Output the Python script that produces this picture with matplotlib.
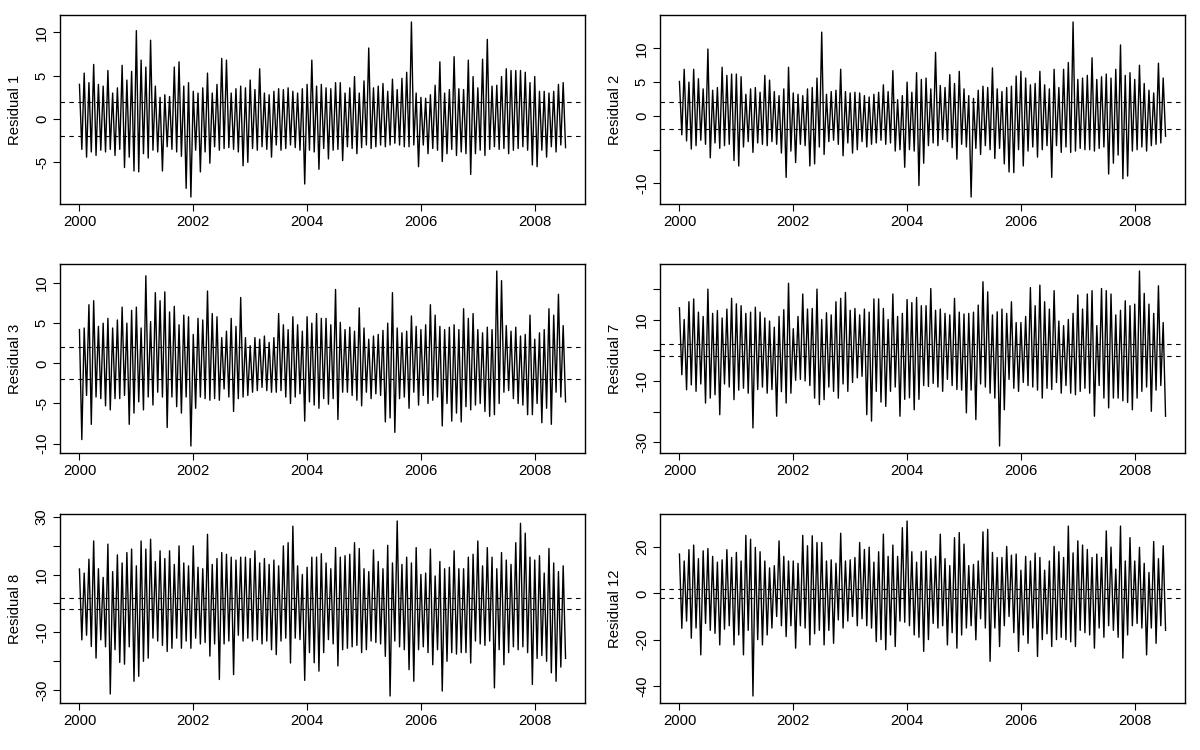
import numpy as np
import matplotlib

matplotlib.use("Agg")
import matplotlib.pyplot as plt

plt.rcParams["font.family"] = ["Liberation Sans", "DejaVu Sans"]

# Monthly extremes, Jan 2000 .. Jul 2008 (103 months).
# Each month: highest and lowest residual seen in that month.
res1_hi = [4.0, 5.3, 4.2, 6.3, 4.0, 3.8, 5.6, 3.0, 3.6, 6.2,
           4.5, 5.5, 10.2, 6.8, 6.0, 9.1, 3.8, 2.5, 2.8, 2.6,
           6.0, 6.6, 3.8, 4.2, 3.2, 3.0, 3.6, 5.3, 3.0, 4.0,
           7.0, 6.8, 3.0, 3.5, 3.8, 3.6, 4.5, 3.4, 5.8, 3.0,
           2.8, 3.2, 3.5, 3.4, 3.6, 3.2, 3.0, 3.5, 4.0, 6.8,
           3.8, 4.0, 3.6, 3.5, 4.2, 4.2, 3.0, 3.6, 4.9, 3.0,
           4.4, 8.2, 3.6, 3.8, 4.1, 3.2, 4.6, 3.4, 4.7, 5.4,
           11.2, 3.0, 2.5, 2.4, 2.8, 3.9, 6.6, 3.0, 3.4, 7.2,
           3.5, 3.4, 6.8, 4.9, 3.6, 6.9, 9.2, 3.8, 3.9, 4.9,
           5.8, 5.6, 5.6, 5.6, 5.4, 4.2, 4.9, 3.2, 3.2, 3.0,
           3.2, 4.0, 4.2]
res1_lo = [-3.5, -4.4, -3.8, -4.2, -3.6, -3.8, -3.5, -4.2, -3.5, -5.6,
           -4.4, -6.0, -6.1, -4.0, -4.5, -3.6, -3.8, -6.0, -3.2, -3.5,
           -3.8, -4.3, -8.0, -9.0, -3.6, -6.1, -3.8, -5.1, -3.2, -3.6,
           -3.4, -3.3, -3.5, -3.8, -5.4, -5.0, -3.4, -3.6, -3.2, -3.5,
           -4.4, -3.0, -3.6, -3.4, -3.0, -3.3, -3.6, -7.5, -3.6, -3.8,
           -5.8, -3.4, -4.6, -3.6, -3.5, -4.8, -3.2, -3.4, -4.0, -3.3,
           -3.0, -3.4, -3.2, -3.0, -3.2, -3.0, -2.8, -3.0, -3.2, -3.2,
           -3.0, -5.5, -3.0, -4.0, -3.4, -3.6, -4.9, -4.0, -3.5, -4.2,
           -3.8, -4.0, -6.4, -4.0, -3.6, -4.2, -3.5, -3.2, -3.5, -3.4,
           -4.0, -3.6, -3.4, -3.2, -3.6, -5.3, -5.5, -3.6, -4.4, -3.2,
           -3.8, -3.0, -3.3]

res2_hi = [5.1, 6.9, 5.0, 6.9, 5.5, 4.0, 9.9, 3.8, 4.2, 7.2,
           6.0, 6.2, 6.2, 5.8, 3.2, 4.0, 4.2, 3.5, 6.0, 5.3,
           3.6, 3.0, 4.0, 7.2, 3.4, 3.2, 3.0, 4.0, 4.2, 5.6,
           12.4, 3.2, 3.6, 3.8, 6.9, 3.6, 3.4, 3.5, 3.4, 3.0,
           2.8, 3.2, 3.5, 4.6, 3.6, 6.7, 2.4, 3.0, 5.0, 3.5,
           6.4, 5.4, 5.6, 4.0, 9.4, 4.5, 4.2, 6.1, 4.8, 6.6,
           4.0, 3.0, 2.6, 3.8, 4.4, 4.2, 7.1, 4.0, 3.6, 4.2,
           4.4, 5.9, 6.6, 5.6, 4.6, 4.8, 6.6, 4.6, 4.0, 6.9,
           4.2, 6.9, 7.9, 13.9, 5.4, 5.6, 6.0, 8.6, 5.4, 5.8,
           6.2, 5.6, 6.9, 10.5, 6.0, 6.4, 5.4, 7.5, 4.8, 3.8,
           3.4, 7.8, 5.6]
res2_lo = [-2.8, -3.7, -4.9, -4.4, -3.6, -4.2, -6.2, -4.0, -4.8, -4.4,
           -4.2, -6.6, -7.4, -4.6, -3.8, -5.4, -4.0, -4.2, -4.4, -3.8,
           -4.2, -5.5, -9.1, -5.2, -6.9, -4.2, -4.4, -7.4, -7.1, -4.6,
           -5.7, -3.8, -3.6, -4.2, -5.9, -4.0, -5.5, -5.0, -3.8, -4.6,
           -4.2, -4.0, -3.6, -4.2, -4.0, -5.2, -5.0, -7.6, -5.0, -5.2,
           -10.3, -7.0, -4.4, -4.0, -4.4, -3.5, -3.8, -4.7, -6.4, -4.2,
           -4.6, -12.0, -4.8, -5.7, -4.4, -5.0, -6.3, -4.8, -7.1, -8.3,
           -8.4, -5.0, -7.4, -5.2, -4.6, -6.1, -5.0, -4.4, -9.1, -4.4,
           -5.4, -4.6, -5.4, -5.2, -4.8, -5.0, -5.0, -5.2, -4.8, -4.6,
           -8.6, -7.0, -5.8, -9.3, -8.9, -5.2, -5.0, -4.6, -5.2, -4.4,
           -4.2, -4.0, -3.0]

res3_hi = [4.2, 4.4, 7.3, 7.8, 4.6, 5.0, 5.6, 4.4, 5.4, 7.0,
           5.0, 6.6, 7.0, 4.4, 10.9, 5.2, 8.8, 7.8, 8.9, 6.4,
           7.1, 4.8, 6.0, 5.8, 3.6, 5.6, 5.4, 9.0, 6.2, 5.8,
           3.2, 4.0, 5.6, 4.6, 8.2, 3.2, 2.2, 3.2, 3.0, 3.4,
           2.6, 3.2, 6.2, 4.8, 4.2, 5.8, 4.8, 4.0, 5.8, 5.0,
           6.2, 5.6, 5.6, 4.8, 9.2, 5.1, 4.2, 4.5, 4.0, 6.9,
           4.4, 3.0, 3.4, 3.6, 4.1, 5.0, 8.8, 4.4, 3.8, 4.0,
           5.9, 4.6, 4.2, 4.8, 7.3, 6.0, 4.6, 4.2, 4.5, 4.8,
           4.2, 6.8, 5.6, 6.2, 4.2, 3.8, 4.5, 4.2, 11.5, 10.3,
           4.7, 4.0, 4.5, 3.4, 3.6, 6.0, 3.0, 3.8, 4.2, 6.8,
           6.0, 8.6, 4.7]
res3_lo = [-9.5, -4.0, -7.6, -4.2, -4.4, -5.3, -5.8, -4.4, -4.4, -4.0,
           -7.6, -6.2, -4.8, -5.8, -4.2, -5.2, -3.6, -4.2, -8.0, -4.2,
           -5.4, -6.2, -4.2, -10.3, -5.6, -4.2, -4.4, -4.6, -4.4, -4.6,
           -3.2, -4.2, -6.0, -4.4, -4.2, -4.0, -3.6, -3.4, -3.0, -3.4,
           -3.6, -3.6, -3.4, -4.2, -5.0, -4.2, -3.8, -7.2, -4.8, -5.2,
           -5.6, -4.4, -5.1, -4.4, -7.0, -3.6, -3.6, -4.0, -4.6, -5.3,
           -3.6, -4.4, -3.8, -4.0, -7.3, -6.8, -8.6, -4.4, -4.2, -5.6,
           -3.6, -5.2, -4.0, -5.0, -4.6, -4.2, -7.8, -5.0, -7.2, -6.2,
           -7.3, -5.4, -5.8, -5.2, -5.0, -6.0, -6.6, -6.4, -5.0, -3.6,
           -3.4, -4.4, -5.0, -5.2, -6.4, -6.4, -5.0, -7.4, -5.6, -7.6,
           -3.6, -4.2, -4.8]

res7_hi = [13.8, 10.0, 15.8, 16.7, 12.4, 11.0, 19.9, 12.0, 12.9, 10.5,
           13.4, 16.9, 15.1, 14.5, 12.0, 12.4, 14.0, 12.4, 10.5, 9.5,
           7.5, 11.0, 13.2, 21.8, 7.0, 11.0, 18.3, 13.4, 13.6, 19.9,
           10.0, 12.2, 11.5, 15.8, 16.9, 18.8, 13.0, 13.6, 11.5, 13.4,
           12.4, 16.7, 16.7, 13.6, 10.0, 18.3, 11.0, 12.0, 16.5, 15.5,
           17.2, 14.5, 14.5, 20.1, 13.0, 13.4, 12.0, 11.5, 16.9, 12.4,
           11.8, 12.0, 12.4, 14.7, 22.3, 19.0, 11.5, 12.5, 13.4, 12.0,
           15.8, 9.0, 9.0, 11.0, 20.4, 14.5, 21.2, 15.8, 13.4, 19.4,
           9.5, 8.0, 10.0, 12.0, 18.0, 13.4, 18.3, 19.4, 8.0, 20.1,
           19.4, 18.3, 11.5, 13.0, 16.1, 14.5, 15.0, 25.8, 18.5, 15.0,
           12.0, 21.0, 9.0]
res7_lo = [-8.0, -12.9, -11.3, -13.4, -11.0, -17.2, -15.6, -14.5, -21.0, -11.0,
           -12.0, -16.1, -13.0, -12.4, -14.0, -25.3, -12.8, -12.0, -14.0, -12.8,
           -21.5, -13.5, -17.2, -14.0, -9.8, -9.5, -10.0, -11.5, -15.6, -17.7,
           -16.1, -12.0, -13.4, -15.6, -11.0, -13.4, -10.5, -9.0, -8.5, -21.0,
           -23.1, -13.4, -16.9, -18.3, -13.4, -12.0, -21.5, -16.0, -15.5, -19.4,
           -16.0, -11.5, -11.8, -10.8, -12.0, -13.4, -9.5, -11.5, -12.8, -13.0,
           -20.4, -13.0, -22.6, -11.0, -12.0, -14.0, -15.6, -31.2, -19.4, -9.5,
           -12.4, -13.4, -10.5, -11.5, -12.0, -13.0, -15.6, -12.4, -12.8, -10.5,
           -14.0, -11.5, -14.0, -14.5, -13.4, -12.4, -14.0, -21.5, -11.5, -15.6,
           -18.8, -15.6, -15.6, -16.5, -17.0, -19.4, -15.6, -13.4, -12.0, -19.9,
           -13.0, -11.5, -21.5]

res8_hi = [11.9, 10.5, 15.3, 21.6, 12.0, 9.0, 20.5, 11.0, 16.8, 14.0,
           17.6, 18.8, 13.0, 21.6, 18.8, 22.2, 14.5, 18.2, 15.5, 18.2,
           13.5, 19.9, 14.0, 13.0, 19.9, 12.5, 12.0, 23.9, 13.5, 15.5,
           17.6, 17.0, 16.0, 15.0, 16.0, 16.0, 15.5, 18.2, 14.0, 15.5,
           13.5, 15.0, 13.0, 19.9, 21.0, 26.7, 13.0, 10.0, 12.5, 16.0,
           16.0, 17.2, 14.0, 12.0, 19.3, 16.0, 16.5, 17.0, 21.0, 19.0,
           12.0, 11.0, 18.5, 14.5, 12.0, 20.1, 14.0, 28.5, 13.5, 16.0,
           14.0, 19.3, 10.0, 10.5, 18.8, 9.5, 14.5, 12.0, 12.5, 18.2,
           12.0, 12.0, 16.0, 17.0, 21.6, 13.0, 19.3, 16.0, 12.0, 17.6,
           15.0, 13.5, 21.0, 27.7, 24.3, 16.0, 15.0, 16.5, 10.5, 19.0,
           14.0, 11.0, 13.0]
res8_lo = [-12.6, -11.0, -14.9, -18.9, -12.6, -15.0, -31.3, -16.0, -20.4, -21.0,
           -15.0, -26.9, -25.2, -20.0, -18.9, -12.0, -13.0, -14.5, -16.6, -15.5,
           -12.0, -15.5, -13.0, -15.5, -12.0, -14.0, -13.5, -18.2, -14.0, -26.3,
           -14.0, -13.0, -24.6, -11.0, -13.0, -12.0, -13.0, -12.5, -14.0, -13.0,
           -16.0, -17.7, -13.0, -12.0, -20.6, -12.0, -12.5, -26.6, -17.0, -20.5,
           -23.4, -17.0, -12.5, -14.0, -21.6, -16.0, -15.5, -15.0, -14.5, -17.0,
           -16.0, -13.0, -13.5, -14.0, -18.3, -32.0, -13.0, -15.0, -16.0, -22.9,
           -26.9, -16.0, -15.0, -17.0, -21.2, -16.0, -30.3, -20.0, -17.0, -17.5,
           -17.0, -17.0, -20.6, -13.0, -14.0, -14.5, -13.0, -29.2, -16.0, -21.2,
           -17.0, -15.0, -16.0, -15.0, -17.0, -28.0, -19.0, -18.0, -20.0, -24.0,
           -26.9, -22.0, -19.0]

res12_hi = [17.0, 14.0, 18.9, 20.9, 15.0, 18.4, 19.4, 16.0, 13.5, 14.5,
            18.9, 15.5, 17.7, 14.0, 25.1, 23.4, 19.9, 18.0, 14.0, 11.0,
            12.0, 22.7, 16.0, 14.0, 14.0, 13.0, 25.1, 20.6, 24.9, 22.0,
            22.0, 14.0, 14.5, 13.0, 26.0, 14.0, 14.5, 15.5, 22.0, 19.0,
            20.0, 13.5, 18.0, 25.6, 16.0, 20.9, 16.0, 28.4, 31.3, 18.0,
            13.5, 18.0, 18.4, 15.0, 16.0, 25.6, 15.0, 12.0, 24.1, 26.3,
            21.3, 12.0, 12.5, 14.0, 26.6, 27.7, 17.7, 15.5, 15.5, 20.3,
            16.5, 17.0, 10.0, 16.0, 14.0, 17.4, 15.5, 10.0, 14.0, 20.3,
            18.0, 15.5, 29.1, 17.5, 22.7, 20.9, 19.0, 15.5, 17.0, 15.5,
            27.0, 20.0, 10.5, 29.1, 14.0, 24.1, 14.0, 19.9, 13.0, 9.0,
            22.4, 15.0, 20.6]
res12_lo = [-15.1, -12.0, -19.4, -15.0, -26.6, -13.0, -16.0, -17.3, -22.3, -15.5,
            -14.0, -22.3, -18.0, -26.6, -16.0, -44.4, -20.0, -22.3, -18.0, -15.0,
            -10.0, -14.0, -18.7, -14.0, -23.7, -14.0, -15.0, -22.3, -17.5, -16.0,
            -22.3, -16.0, -21.6, -11.5, -15.0, -12.0, -10.0, -14.0, -11.0, -14.0,
            -15.0, -20.9, -20.0, -24.4, -18.0, -23.0, -12.0, -12.5, -14.0, -18.0,
            -19.0, -25.1, -20.0, -13.0, -15.0, -14.0, -22.3, -17.0, -23.7, -18.0,
            -15.0, -14.0, -20.1, -11.0, -15.0, -29.4, -15.0, -23.0, -14.0, -10.0,
            -17.0, -25.1, -18.0, -21.6, -15.0, -27.3, -20.0, -17.5, -23.0, -20.0,
            -19.0, -20.0, -21.0, -23.0, -16.0, -17.0, -18.0, -23.7, -15.0, -19.0,
            -14.0, -16.0, -19.0, -28.0, -18.0, -14.0, -13.0, -15.0, -26.6, -15.0,
            -21.6, -14.0, -16.0]

x_ticks = [2000, 2002, 2004, 2006, 2008]
res1_ticks = [-5, 0, 5, 10]
res1_labels = ["-5", "0", "5", "10"]
res2_ticks = [-10, -5, 0, 5, 10]
res2_labels = ["-10", "", "0", "5", "10"]
res3_ticks = [-10, -5, 0, 5, 10]
res3_labels = ["-10", "-5", "0", "5", "10"]
res7_ticks = [-30, -20, -10, 0, 10, 20]
res7_labels = ["-30", "", "-10", "", "10", ""]
res8_ticks = [-30, -20, -10, 0, 10, 20, 30]
res8_labels = ["-30", "", "-10", "", "10", "", "30"]
res12_ticks = [-40, -20, 0, 20]
res12_labels = ["-40", "-20", "0", "20"]
band = 2.0


def zigzag(hi, lo):
    """Interleave monthly highs and lows into one trace."""
    months = np.arange(len(hi))
    x = np.empty(2 * len(hi))
    y = np.empty(2 * len(hi))
    x[0::2] = 2000 + months / 12.0
    x[1::2] = 2000 + (months + 0.5) / 12.0
    y[0::2] = hi
    y[1::2] = lo
    return x, y


panels = [
    ("Residual 1", res1_hi, res1_lo, res1_ticks, res1_labels),
    ("Residual 2", res2_hi, res2_lo, res2_ticks, res2_labels),
    ("Residual 3", res3_hi, res3_lo, res3_ticks, res3_labels),
    ("Residual 7", res7_hi, res7_lo, res7_ticks, res7_labels),
    ("Residual 8", res8_hi, res8_lo, res8_ticks, res8_labels),
    ("Residual 12", res12_hi, res12_lo, res12_ticks, res12_labels),
]

fig = plt.figure(figsize=(12, 7.5), dpi=100)
lefts = [60 / 1200, 660 / 1200]
bottoms = [1 - 204 / 750, 1 - 453 / 750, 1 - 703 / 750]
width, height = 525 / 1200, 189 / 750

for i, (name, hi, lo, yt, yl) in enumerate(panels):
    ax = fig.add_axes([lefts[i % 2], bottoms[i // 2], width, height])
    x, y = zigzag(hi, lo)
    ax.plot(x, y, color="black", lw=1.0, zorder=2)
    ax.margins(x=0.04, y=0.04)
    ax.axhline(band, color="black", lw=0.8, ls=(0, (4, 4)), zorder=1)
    ax.axhline(-band, color="black", lw=0.8, ls=(0, (4, 4)), zorder=1)
    ax.set_xticks(x_ticks)
    ax.set_xticklabels([str(t) for t in x_ticks])
    ax.set_yticks(yt)
    ax.set_yticklabels(yl, rotation=90, va="center")
    ax.tick_params(axis="both", direction="out", length=5, width=0.8,
                   labelsize=10.7, pad=3)
    ax.set_ylabel(name, fontsize=10.7, labelpad=9)
    for sp in ax.spines.values():
        sp.set_linewidth(1.0)

fig.savefig("out.png", dpi=100)
plt.close(fig)
